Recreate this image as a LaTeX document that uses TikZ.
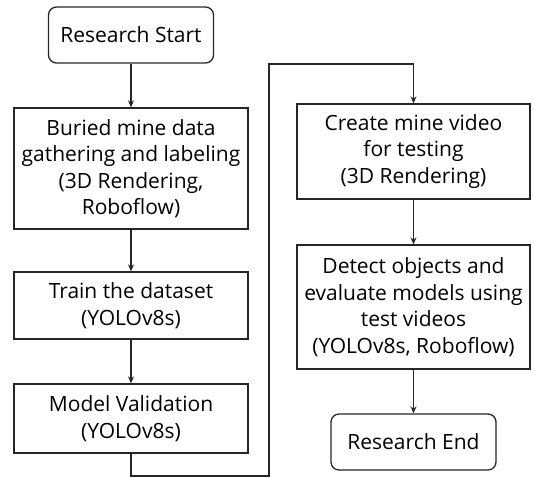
\documentclass[tikz,border=0pt]{standalone}
\usepackage{fontspec}
\setmainfont{Open Sans}
\usetikzlibrary{arrows.meta}
\begin{document}
\begin{tikzpicture}[x=1pt,y=-1pt,
  box/.style={draw=black!85, line width=1.3pt, align=center, inner sep=0pt,
    font=\fontsize{21}{26.5}\selectfont},
  term/.style={box, rounded corners=8pt},
  conn/.style={draw=black!85, line width=1.3pt, -{Stealth[length=7pt,width=6pt]}}]
\useasboundingbox (0,0) rectangle (534,477);
\node[term, minimum width=165pt, minimum height=56pt] (start) at (131,35) {Research Start};
\node[box, minimum width=234pt, minimum height=121pt] (gather) at (131,168.5) {Buried mine data\\gathering and labeling\\(3D Rendering,\\Roboflow)};
\node[box, minimum width=234pt, minimum height=67pt] (train) at (131,305.5) {Train the dataset\\(YOLOv8s)};
\node[box, minimum width=234pt, minimum height=69pt] (valid) at (131,418.5) {Model Validation\\(YOLOv8s)};
\node[box, minimum width=233pt, minimum height=95pt] (video) at (413.5,151.5) {Create mine video\\for testing\\(3D Rendering)};
\node[box, minimum width=233pt, minimum height=124pt] (detect) at (413.5,307) {Detect objects and\\evaluate models using\\test videos\\(YOLOv8s, Roboflow)};
\node[term, minimum width=165pt, minimum height=56pt] (end) at (413.5,442) {Research End};
\coordinate (b1) at (131,476);
\coordinate (b2) at (269,476);
\coordinate (t1) at (269,64);
\coordinate (t2) at (413.5,64);
\draw[conn] (start) -- (gather);
\draw[conn] (gather) -- (train);
\draw[conn] (train) -- (valid);
\draw[conn] (valid.south) -- (b1) -- (b2) -- (t1) -- (t2) -- (video.north);
\draw[conn] (video) -- (detect);
\draw[conn] (detect) -- (end);
\end{tikzpicture}
\end{document}
